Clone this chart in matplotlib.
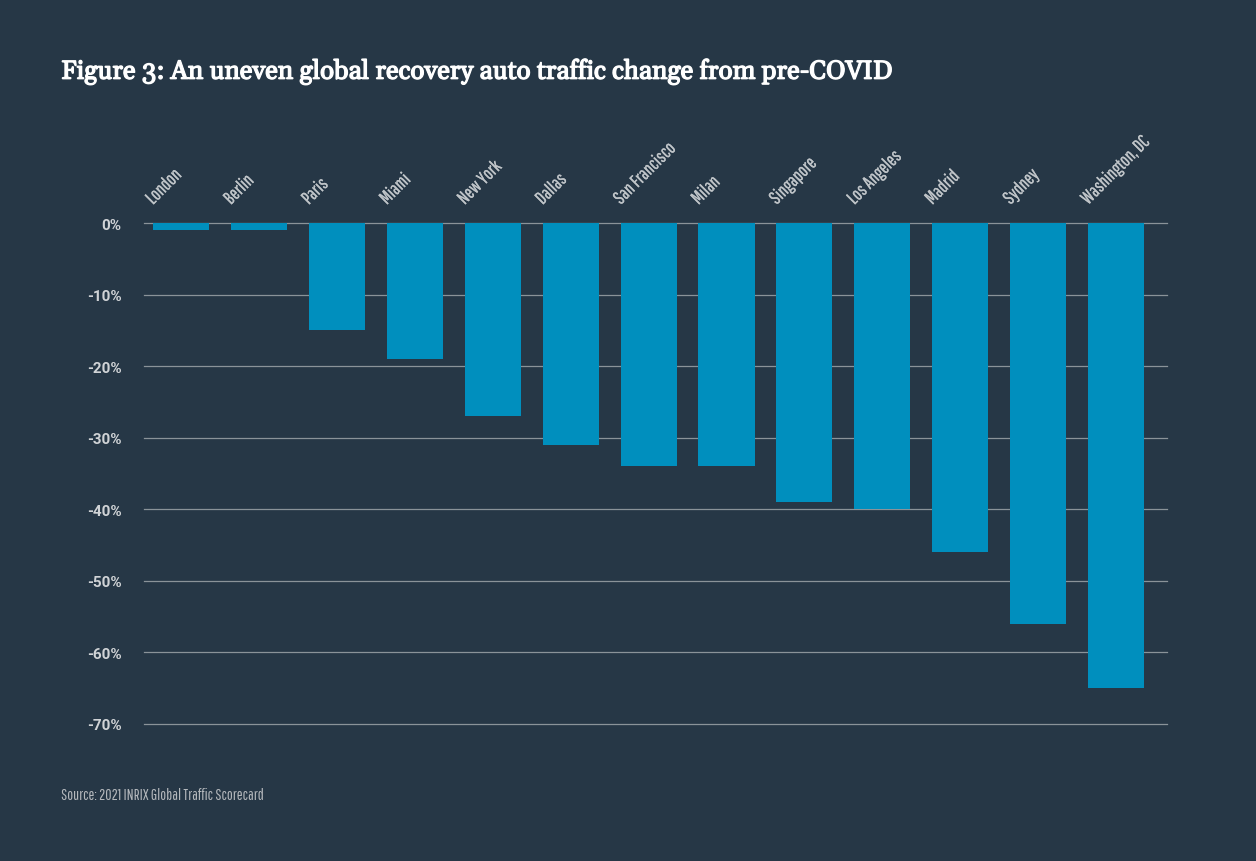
import numpy as np
import matplotlib
matplotlib.use("Agg")
from matplotlib import pyplot as plt
from matplotlib import patheffects
from matplotlib.ticker import FuncFormatter


cities = ["London", "Berlin", "Paris", "Miami", "New York", "Dallas", "San Francisco",
          "Milan", "Singapore", "Los Angeles", "Madrid", "Sydney", "Washington, DC"]
change_pct = [-1, -1, -15, -19, -27, -31, -34, -34, -39, -40, -46, -56, -65]
y_ticks = [0, -10, -20, -30, -40, -50, -60, -70]

bg = "#263746"
bar_col = "#008fbe"
narrow = ["Pathway Gothic One", "Oswald", "Roboto Condensed", "Archivo Narrow", "DejaVu Sans"]
sans = ["Roboto", "DejaVu Sans"]
serif = ["Gelasio", "Liberation Serif", "DejaVu Serif"]

fig = plt.figure(figsize=(12.56, 8.62), dpi=100, facecolor=bg)
ax = fig.add_axes([0.1146, 0.159, 0.929 - 0.1146, 0.740 - 0.159], facecolor=bg)

x = np.arange(len(cities))
ax.bar(x, change_pct, width=0.72, color=bar_col, zorder=3)

ax.set_ylim(-70, 0)
ax.set_xlim(-0.475, len(cities) - 1 + 0.65)
ax.set_yticks(y_ticks)
ax.yaxis.set_major_formatter(FuncFormatter(lambda v, p: f"{int(v)}%"))
ax.grid(axis="y", color="#8a9399", linewidth=0.9, zorder=1)
for gl in ax.get_ygridlines():
    gl.set_clip_on(False)
ax.set_xticks([])
for s in ax.spines.values():
    s.set_visible(False)
ax.tick_params(axis="y", length=0, pad=16, labelcolor="#d0d3d6", labelsize=11)
for lab in ax.get_yticklabels():
    lab.set_fontweight("bold")
    lab.set_family(sans)

# rotated city names above the zero line
for i, name in enumerate(cities):
    ax.text(i - 0.36, 2.5, name, rotation=45, rotation_mode="anchor",
            ha="left", va="baseline", color="#bfc4c8", fontsize=13.3,
            family=narrow, clip_on=False,
            path_effects=[patheffects.withStroke(linewidth=0.15, foreground="#bfc4c8")])

# title font has no bold file here, so thicken it with a stroke
fig.text(61 / 1256, 1 - 72 / 862, "Figure 3: An uneven global recovery auto traffic change from pre-COVID",
         color="white", fontsize=18.7, fontweight="bold", family=serif,
         va="center", ha="left",
         path_effects=[patheffects.withStroke(linewidth=0.9, foreground="white")])
fig.text(61 / 1256, 1 - 796 / 862, "Source: 2021 INRIX Global Traffic Scorecard",
         color="#b4b8bc", fontsize=11.2, family=narrow, va="center", ha="left")

fig.savefig("out.png", dpi=100, facecolor=bg)
